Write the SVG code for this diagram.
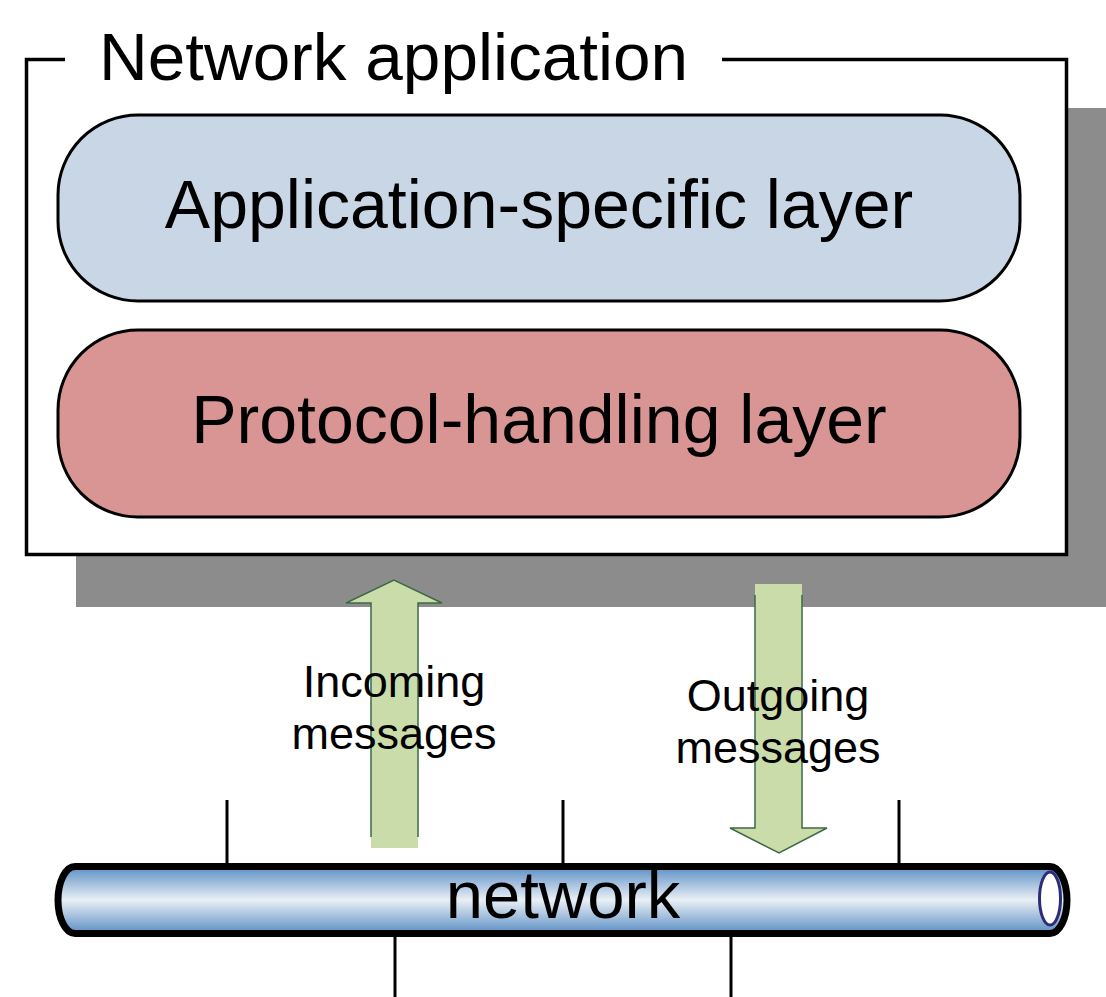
<svg xmlns="http://www.w3.org/2000/svg" width="1106" height="997" viewBox="0 0 1106 997">
  <defs>
    <linearGradient id="tube" x1="0" y1="0" x2="0" y2="1">
      <stop offset="0" stop-color="#5b8ec4"/>
      <stop offset="0.5" stop-color="#e9eff5"/>
      <stop offset="1" stop-color="#5b8ec4"/>
    </linearGradient>
    <style>
      .txt { font-family: "Liberation Sans", Arial, sans-serif; fill: #000; }
      .layer { stroke: #000; stroke-width: 3; }
      .tick { stroke: #000; stroke-width: 3; fill: none; }
      .arrowFill { fill: #cbdcab; stroke: none; }
      .arrowLine { fill: none; stroke: #3d6a45; stroke-width: 1.5; stroke-linejoin: miter; }
    </style>
  </defs>
  <rect width="1106" height="997" fill="#fff"/>

  <g id="shadow">
    <rect x="76" y="108" width="1040" height="499" fill="#8c8c8c"/>
  </g>

  <g id="frame">
    <rect x="26.5" y="59.5" width="1040" height="495" fill="#fff" stroke="none"/>
    <path d="M65,59.5 H26.5 V554.5 H1066.5 V59.5 H722" fill="none" stroke="#000" stroke-width="3.5"/>
    <text class="txt" x="99" y="80" font-size="67.5">Network application</text>
  </g>

  <g id="app-layer">
    <rect class="layer" x="58" y="115" width="962" height="186" rx="80" ry="80" fill="#c9d6e6"/>
    <text class="txt" x="539" y="228" font-size="68" text-anchor="middle">Application-specific layer</text>
  </g>

  <g id="protocol-layer">
    <rect class="layer" x="58" y="330" width="962" height="187" rx="80" ry="80" fill="#d99593"/>
    <text class="txt" x="539" y="443" font-size="68" text-anchor="middle">Protocol-handling layer</text>
  </g>

  <g id="connectors">
    <g id="incoming-arrow">
      <polygon class="arrowFill" points="371,848 371,603 346,603 394,580 442,603 418,603 418,848"/>
      <polyline class="arrowLine" points="371,837 371,603 346,603 394,580 442,603 418,603 418,837"/>
    </g>
    <g id="outgoing-arrow">
      <polygon class="arrowFill" points="755,584 802,584 802,828 827,828 779,853 730,828 755,828"/>
      <polyline class="arrowLine" points="755,595 755,828 730,828 779,853 827,828 802,828 802,595"/>
    </g>
    <g id="ticks">
      <line class="tick" x1="227" y1="800" x2="227" y2="866"/>
      <line class="tick" x1="563" y1="800" x2="563" y2="866"/>
      <line class="tick" x1="899" y1="800" x2="899" y2="866"/>
      <line class="tick" x1="395" y1="933" x2="395" y2="997"/>
      <line class="tick" x1="731" y1="933" x2="731" y2="997"/>
    </g>
  </g>

  <g id="labels">
    <text class="txt" x="394" y="697" font-size="45" text-anchor="middle">Incoming</text>
    <text class="txt" x="394" y="749" font-size="45" text-anchor="middle">messages</text>
    <text class="txt" x="778" y="711" font-size="45" text-anchor="middle">Outgoing</text>
    <text class="txt" x="778" y="763" font-size="45" text-anchor="middle">messages</text>
  </g>

  <g id="network">
    <path d="M75,866.5 H1050 A17,33.5 0 0 1 1050,933.5 H75 A17,33.5 0 0 1 75,866.5 Z" fill="url(#tube)" stroke="#000" stroke-width="7"/>
    <ellipse cx="1050" cy="898.5" rx="10.5" ry="26.5" fill="#fff" stroke="#2e2b78" stroke-width="3"/>
    <text class="txt" x="563" y="918" font-size="67" text-anchor="middle">network</text>
  </g>
</svg>
